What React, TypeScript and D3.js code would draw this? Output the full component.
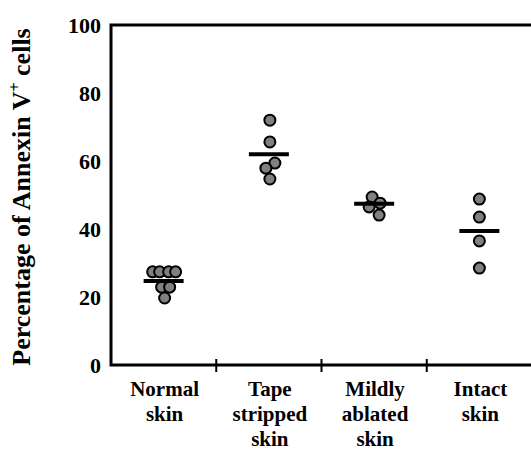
import React from "react";
import * as d3 from "d3";

const categories = ["Normal skin", "Tape stripped skin", "Mildly ablated skin", "Intact skin"];
const categoryLines = [["Normal", "skin"], ["Tape", "stripped", "skin"], ["Mildly", "ablated", "skin"], ["Intact", "skin"]];
const yTicks = [0, 20, 40, 60, 80, 100];
// individual values per group, with a small horizontal jitter (in px) for overlapping dots
const normalValues = [27.4, 27.4, 27.4, 27.4, 22.9, 22.9, 19.7];
const normalJitter = [-11, -4, 5, 12, -2, 6, 1];
const tapeValues = [72, 65.6, 59.4, 57.9, 54.7];
const tapeJitter = [1, 1, 6, -3, 1];
const mildValues = [49.4, 47.6, 46.5, 44.1];
const mildJitter = [-2, 6, -5, 5];
const intactValues = [48.8, 43.5, 36.5, 28.5];
const intactJitter = [0, 0, 0, 0];
const means = [24.7, 62, 47.4, 39.4];

const groups = [
  { values: normalValues, jitter: normalJitter },
  { values: tapeValues, jitter: tapeJitter },
  { values: mildValues, jitter: mildJitter },
  { values: intactValues, jitter: intactJitter },
];

const font = '"Liberation Serif", "Times New Roman", "DejaVu Serif", serif';
const textStyle: React.CSSProperties = { fontFamily: font, fontWeight: 700 };

export default function App() {
  const W = 531, H = 451;
  const left = 111, right = 532, top = 25, bottom = 365;
  const x = d3.scaleBand<string>().domain(categories).range([left, right]);
  const y = d3.scaleLinear().domain([0, 100]).range([bottom, top]);
  return (
    <svg width={W} height={H} style={{ position: "absolute", left: 0, top: 0, background: "#fff" }}>
      <path d={`M${W + 2},${y(100)} H${left} V${y(0)} H${W + 2}`} fill="none" stroke="#000" strokeWidth={3} />
      {categories.slice(1).map((c) => (
        <line key={c} x1={x(c)!} x2={x(c)!} y1={y(0) - 6} y2={y(0) + 7} stroke="#000" strokeWidth={2} />
      ))}
      {yTicks.map((t) => (
        <text key={t} x={101} y={y(t)} dy="0.35em" textAnchor="end" style={{ ...textStyle, fontSize: 22 }}>
          {t}
        </text>
      ))}
      {categoryLines.map((lines, i) => (
        <text key={i} textAnchor="middle" style={{ ...textStyle, fontSize: 21 }}>
          {lines.map((l, j) => (
            <tspan key={j} x={x(categories[i])! + x.bandwidth() / 2 + 1} y={396 + j * 25}>
              {l}
            </tspan>
          ))}
        </text>
      ))}
      <text
        transform={`translate(30,197) rotate(-90)`}
        textAnchor="middle"
        style={{ ...textStyle, fontSize: 26 }}
      >
        Percentage of Annexin V<tspan style={{ fontSize: 16 }} dy={-10}>+</tspan>
        <tspan dy={10}> cells</tspan>
      </text>
      {groups.map((g, i) => {
        const cx = x(categories[i])! + x.bandwidth() / 2;
        return (
          <g key={i}>
            {g.values.map((v, j) => (
              <circle key={j} cx={cx + g.jitter[j]} cy={y(v)} r={5.5} fill="#808080" stroke="#000" strokeWidth={2} />
            ))}
            <line x1={cx - 20} x2={cx + 20} y1={y(means[i])} y2={y(means[i])} stroke="#000" strokeWidth={4} />
          </g>
        );
      })}
    </svg>
  );
}
